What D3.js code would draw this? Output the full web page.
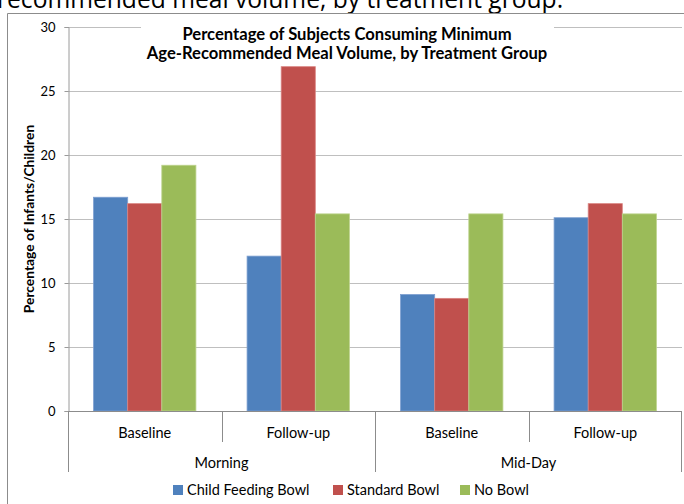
<!DOCTYPE html>
<html>
<head>
<meta charset="utf-8">
<script src="https://cdn.jsdelivr.net/npm/d3@7"></script>
<style>
  html, body { margin: 0; padding: 0; background: #fff; }
  svg { display: block; }
  text { font-family: Lato, "Open Sans", sans-serif; fill: #000; }
</style>
</head>
<body>
<script>
// Meal-volume survey: share of subjects reaching the minimum age-recommended volume
const periods = ["Morning", "Mid-Day"];
const visits = ["Baseline", "Follow-up"];
const groups = ["Child Feeding Bowl", "Standard Bowl", "No Bowl"];
const childFeedingBowl = [16.7, 12.1, 9.1, 15.1];
const standardBowl = [16.2, 26.9, 8.8, 16.2];
const noBowl = [19.2, 15.4, 15.4, 15.4];
const yTicks = [0, 5, 10, 15, 20, 25, 30];
const colors = ["#4f81bd", "#c0504d", "#9bbb59"];
const edgeColors = ["#7d9fd0", "#d98481", "#bdd38e"];

const W = 684, H = 504;
const margin = { left: 68, right: 2, top: 27, bottom: 93 };
const plotW = W - margin.left - margin.right;
const plotH = H - margin.top - margin.bottom;

const svg = d3.select("body").append("svg").attr("width", W).attr("height", H);

// Slide caption above the chart frame
svg.append("text")
  .attr("x", -3).attr("y", 8)
  .style("font-family", "'Open Sans', sans-serif")
  .style("font-size", "24.6px")
  .text("recommended meal volume, by treatment group.");

// Chart frame
svg.append("path")
  .attr("d", `M7.5,${H} V13.5 H${W}`)
  .attr("fill", "none").attr("stroke", "#8c8c8c").attr("stroke-width", 1);

const cats = [];
periods.forEach(p => visits.forEach(v => cats.push(p + "|" + v)));
const series = [childFeedingBowl, standardBowl, noBowl];

const x0 = d3.scaleBand().domain(cats).range([0, plotW]).paddingInner(0).paddingOuter(0);
// gap between clusters is 1.5 x bar width
const barW = x0.bandwidth() / 4.5;
const x1 = d3.scaleBand().domain(groups).range([0.75 * barW, 3.75 * barW]).padding(0);
const y = d3.scaleLinear().domain([0, 30]).range([plotH, 0]);

const g = svg.append("g").attr("transform", `translate(${margin.left},${margin.top})`);

// Gridlines
g.append("g").selectAll("line").data(yTicks.filter(d => d > 0)).join("line")
  .attr("x1", 0).attr("x2", plotW)
  .attr("y1", d => Math.round(y(d)) + 0.5).attr("y2", d => Math.round(y(d)) + 0.5)
  .attr("stroke", "#bfbfbf").attr("stroke-width", 1.2);

// Bars
const rows = cats.map((c, i) => ({ cat: c, vals: series.map(s => s[i]) }));
g.append("g").selectAll("g").data(rows).join("g")
  .attr("transform", d => `translate(${x0(d.cat)},0)`)
  .selectAll("rect").data(d => d.vals.map((v, j) => ({ v, j }))).join("rect")
  .attr("x", d => x1(groups[d.j]))
  .attr("width", x1.bandwidth())
  .attr("y", d => y(d.v))
  .attr("height", d => plotH - y(d.v))
  .attr("fill", d => colors[d.j])
  .attr("stroke", d => edgeColors[d.j])
  .attr("stroke-width", 0.8);

// Y axis
const yAxis = g.append("g").attr("transform", "translate(0.5,0)")
  .call(d3.axisLeft(y).tickValues(yTicks).tickSize(4).tickPadding(9));
yAxis.select(".domain").attr("stroke", "#9a9a9a");
yAxis.selectAll(".tick line").attr("stroke", "#9a9a9a");
yAxis.selectAll(".tick text").style("font-size", "13px").style("font-family", "Lato, sans-serif");

// Y axis title
svg.append("text")
  .attr("transform", `translate(34,${margin.top + plotH / 2}) rotate(-90)`)
  .attr("text-anchor", "middle")
  .style("font-size", "13.8px").style("font-weight", "bold")
  .text("Percentage of Infants/Children");

// Category axis (two levels)
const axisCol = "#8c8c8c";
const base = margin.top + plotH;
const axG = svg.append("g").attr("transform", `translate(${margin.left},0)`);
axG.append("line").attr("x1", 0).attr("x2", plotW)
  .attr("y1", base + 0.5).attr("y2", base + 0.5).attr("stroke", axisCol);
cats.forEach((c, i) => {
  const xx = Math.round(x0(c)) + 0.5;
  const outer = i % 2 === 0;
  axG.append("line").attr("x1", xx).attr("x2", xx)
    .attr("y1", base).attr("y2", outer ? base + 61 : base + 31)
    .attr("stroke", axisCol);
});
axG.append("line").attr("x1", plotW - 0.5).attr("x2", plotW - 0.5)
  .attr("y1", base).attr("y2", base + 61).attr("stroke", axisCol);

axG.selectAll("text.visit").data(cats).join("text")
  .attr("class", "visit")
  .attr("x", d => x0(d) + x0.bandwidth() / 2)
  .attr("y", base + 27)
  .attr("text-anchor", "middle")
  .style("font-size", "14.5px")
  .text(d => d.split("|")[1]);

axG.selectAll("text.period").data(periods).join("text")
  .attr("class", "period")
  .attr("x", (d, i) => x0.bandwidth() * (2 * i + 1))
  .attr("y", base + 57)
  .attr("text-anchor", "middle")
  .style("font-size", "14.5px")
  .text(d => d);

// Chart title on a white panel
svg.append("rect").attr("x", 141).attr("y", 20).attr("width", 413).attr("height", 44).attr("fill", "#fff");
const titleLines = ["Percentage of Subjects Consuming Minimum", "Age-Recommended Meal Volume, by Treatment Group"];
svg.selectAll("text.title").data(titleLines).join("text")
  .attr("class", "title")
  .attr("x", 347).attr("y", (d, i) => 40 + i * 19)
  .attr("text-anchor", "middle")
  .style("font-size", "16.6px").style("font-weight", "bold")
  .text(d => d);

// Legend
const legendX = [173, 333, 460];
const lg = svg.append("g");
groups.forEach((name, i) => {
  lg.append("rect").attr("x", legendX[i]).attr("y", 485).attr("width", 10).attr("height", 10)
    .attr("fill", colors[i]);
  lg.append("text").attr("x", legendX[i] + 14).attr("y", 495)
    .style("font-size", "14.5px").text(name);
});
</script>
</body>
</html>
